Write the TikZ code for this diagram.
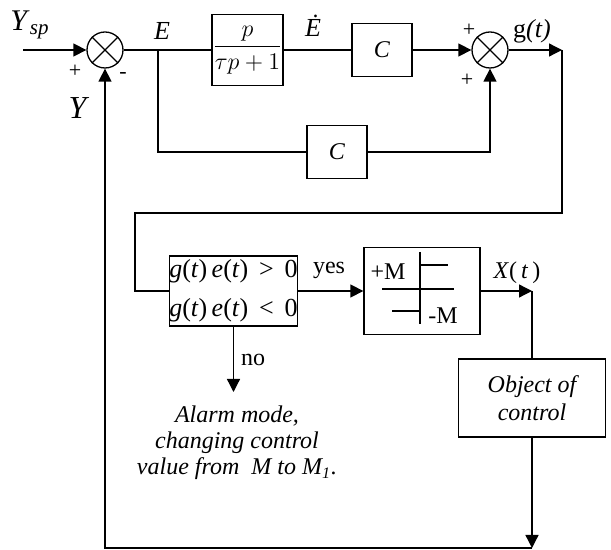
\documentclass[tikz,border=0pt]{standalone}
\usepackage{amsmath}
\usepackage{fontspec}
\setmainfont{Liberation Serif}
\usetikzlibrary{arrows.meta}

\begin{document}
\begin{tikzpicture}[x=0.5pt,y=-0.5pt,line width=0.65pt,
  >={Triangle[length=6.5pt,width=6.5pt]},
  blk/.style={draw,inner sep=0pt,align=center},
  summ/.style={draw,circle,minimum size=18pt,inner sep=0pt},
  lbl/.style={inner sep=0pt,font=\fontsize{12}{14}\selectfont}]
  \useasboundingbox (0,0) rectangle (611,550);

  % summing points
  \node[summ] (s1) at (105,50) {};
  \node[summ] (s2) at (490,50) {};
  \foreach \s in {s1,s2}
    \draw (\s.north west) -- (\s.south east) (\s.north east) -- (\s.south west);

  % blocks
  \node[blk,minimum width=35.5pt,minimum height=35.5pt] (frac) at (247.5,50)
    {\fontsize{13}{15}\selectfont$\dfrac{p}{\tau p+1}$};
  \node[blk,minimum width=30pt,minimum height=26.5pt,font=\fontsize{12}{14}\selectfont\itshape]
    (c1) at (382,50) {C};
  \node[blk,minimum width=30pt,minimum height=26.5pt,font=\fontsize{12}{14}\selectfont\itshape]
    (c2) at (337,152) {C};
  \node[blk,minimum width=62.5pt,minimum height=35pt,font=\fontsize{13}{19.5}\selectfont]
    (cond) at (233.5,291)
    {\textit{g}(\textit{t})\,\textit{e}(\textit{t}) \,>\, 0\\\textit{g}(\textit{t})\,\textit{e}(\textit{t}) \,<\, 0};
  \node[blk,minimum width=58pt,minimum height=43.5pt] (relay) at (422,291) {};
  \node[blk,minimum width=73.5pt,minimum height=39pt,font=\fontsize{12}{14}\selectfont\itshape]
    (obj) at (532,398) {Object of\\control};

  % relay characteristic
  \draw[line width=0.6pt] (420,252) -- (420,324);
  \draw[line width=0.6pt] (382,289) -- (454,289);
  \draw[line width=1.3pt] (392,311) -- (420,311) -- (420,265) -- (448,265);

  % free ends
  \coordinate (in) at (23,50);
  \coordinate (eb) at (158,50);
  \coordinate (gout) at (562,50);
  \coordinate (loop) at (135,213);
  \coordinate (xout) at (532,291);
  \coordinate (fb) at (532,548);
  \coordinate (alarm) at (233.5,392);

  % connectors
  \draw[->] (in) -- (s1.west);
  \draw (s1.east) -- (frac.west);
  \draw (frac.east) -- (c1.west);
  \draw[->] (c1.east) -- (s2.west);
  \draw (eb) |- (c2.west);
  \draw[->] (c2.east) -| (s2.south);
  \draw[->] (s2.east) -- (gout);
  \draw (gout) -- (gout |- loop) -- (loop) |- (cond.west);
  \draw[->] (cond.east) -- (relay.west);
  \draw[->] (relay.east) -- (xout);
  \draw (xout) -- (obj.north);
  \draw[->] (obj.south) -- (fb);
  \draw[->] (fb) -| (s1.south);
  \draw[->] (cond.south) -- (alarm);

  % labels
  \node[lbl,font=\fontsize{15}{17}\selectfont] (ysp) at (30,25) {\textit{Y}\textsubscript{\textit{sp}}};
  \node[lbl,font=\fontsize{11}{13}\selectfont] (p1) at (75,71) {+};
  \node[lbl,font=\fontsize{11}{13}\selectfont] (m1) at (123,76) {-};
  \node[lbl,font=\fontsize{16}{18}\selectfont] (y) at (79,108) {\textit{Y}};
  \node[lbl,font=\fontsize{13}{15}\selectfont] (e) at (162,31) {\textit{E}};
  \node[lbl,font=\fontsize{13}{15}\selectfont] (edot) at (313,26) {\textit{\.E}};
  \node[lbl,font=\fontsize{11}{13}\selectfont] (p2) at (469,30) {+};
  \node[lbl,font=\fontsize{11}{13}\selectfont] (p3) at (467,80) {+};
  \node[lbl,font=\fontsize{13}{15}\selectfont] (g) at (532,31) {g\textit{(t)}};
  \node[lbl] (yes) at (329,270) {yes};
  \node[lbl] (pm) at (388,272) {+M};
  \node[lbl] (mm) at (443,316) {-M};
  \node[lbl] (x) at (517,273) {\textit{X}(\,\textit{t}\,)};
  \node[lbl] (no) at (253,360) {no};
  \node[lbl,align=center,font=\fontsize{12}{13}\selectfont\itshape] (alarmtxt) at (237,443)
    {Alarm mode,\\changing control\\value from~ M to M\textsubscript{1}.};
\end{tikzpicture}
\end{document}
